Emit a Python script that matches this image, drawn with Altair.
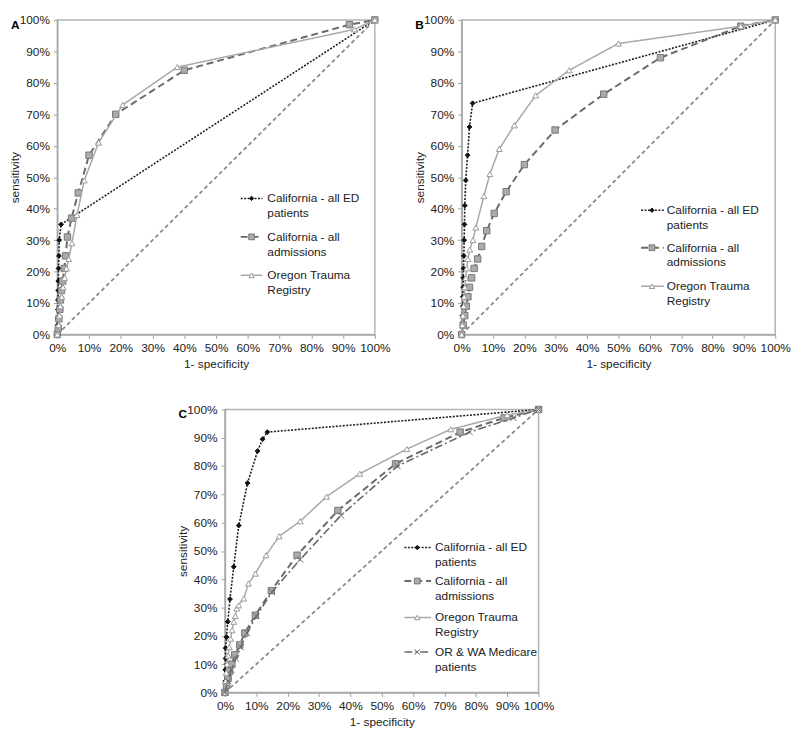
import altair as alt
import pandas as pd

# ---------------- data (percent) ----------------
PCT_TICKS = [0, 10, 20, 30, 40, 50, 60, 70, 80, 90, 100]
CHANCE = [0, 100]

LABEL_ED = "California - all ED\npatients"
LABEL_ADM = "California - all\nadmissions"
LABEL_ORE = "Oregon Trauma\nRegistry"
LABEL_MED = "OR & WA Medicare\npatients"

# Panel A
A_ED_X = [0, 0.1, 0.1, 0.2, 0.2, 0.3, 0.3, 0.4, 0.5, 0.6, 1.2, 100]
A_ED_Y = [0, 3, 5, 8, 11, 14, 17, 21, 25, 30, 35, 100]
A_ADM_X = [0, 0.3, 0.5, 0.8, 1.0, 1.3, 1.7, 2.2, 2.6, 3.2, 4.5, 6.6, 10, 18.4, 40, 92, 100]
A_ADM_Y = [0, 2, 5, 8, 11, 14, 17, 21, 25, 31, 37, 45, 57, 70, 84, 98.5, 100]
A_ORE_X = [0, 0.4, 0.7, 1.0, 1.4, 1.8, 2.3, 2.9, 3.6, 4.6, 6.2, 8.5, 13, 20.6, 37.8, 93.6, 100]
A_ORE_Y = [0, 3, 6, 9, 12, 15, 18, 21, 24, 29, 38, 49, 61, 73, 85, 97, 100]

# Panel B
B_ED_X = [0, 0.2, 0.3, 0.4, 0.4, 0.5, 0.5, 0.6, 0.7, 0.8, 0.9, 1.0, 1.3, 1.9, 2.5, 3.5, 100]
B_ED_Y = [0, 3, 6, 9, 12, 15, 18, 21, 25, 30, 35, 41, 49, 57, 66, 73.5, 100]
B_ADM_X = [0, 0.5, 1.0, 1.5, 2.0, 2.5, 3.2, 4.0, 5.1, 6.4, 8.0, 10.4, 14.2, 20, 29.8, 45.3, 63.4, 89, 100]
B_ADM_Y = [0, 3, 6, 9, 12, 15, 18, 21, 24, 28, 33, 38.5, 45.4, 54, 65, 76.4, 88, 98, 100]
B_ORE_X = [0, 0.2, 0.4, 0.6, 0.8, 1.0, 1.3, 1.6, 2.0, 2.6, 3.6, 4.5, 7.1, 9, 12, 16.8, 23.6, 34.3, 50, 89, 100]
B_ORE_Y = [0, 3, 6, 9, 12, 15, 18, 21, 24, 27, 30, 34, 44, 51, 59, 66.5, 76, 84, 92.5, 98, 100]

# Panel C
C_ED_X = [0, 0.1, 0.1, 0.2, 0.2, 0.5, 0.9, 1.6, 2.8, 4.4, 7.2, 10.4, 12, 13.5, 100]
C_ED_Y = [0, 4, 8, 12, 15.7, 19.6, 25, 33, 44.4, 59, 74, 85.3, 89.5, 92, 100]
C_ADM_X = [0, 0.5, 1.0, 1.5, 2.2, 3.1, 4.7, 6.3, 9.7, 14.8, 23, 36, 54.4, 75, 89, 100]
C_ADM_Y = [0, 2.5, 5, 7.5, 10, 13.3, 16.8, 21, 27.3, 36, 48.5, 64.3, 80.8, 92, 97, 100]
C_ORE_X = [0, 0.2, 0.4, 0.7, 1.0, 1.4, 1.8, 2.3, 2.8, 3.3, 3.8, 4.4, 6.0, 7.5, 9.7, 13.1, 17.3, 24, 32.4, 43, 58, 72, 90, 100]
C_ORE_Y = [0, 4, 7, 10, 13, 16, 19, 22, 25, 27, 29.7, 30.8, 33.2, 38.5, 42, 48.5, 55.2, 60.5, 69.2, 77.3, 86, 93, 98, 100]
C_MED_X = [0, 1, 2, 3.5, 5, 7, 10, 15, 24, 37, 55, 78, 92, 100]
C_MED_Y = [0, 4, 8, 12, 16, 21, 27, 35.5, 47, 62.6, 80, 92, 97, 100]

# ---------------- styles ----------------
FONT = "Liberation Sans"
XMARK = "M-1,-1L1,1M-1,1L1,-1"
STYLE = {
    "ed": dict(color="#1c1c1c", dash=[2, 1.5], width=1.6, shape="diamond",
               fill="#111111", stroke="#111111", size=24, label=LABEL_ED),
    "adm": dict(color="#6a6a6a", dash=[7, 4], width=2.0, shape="square",
                fill="#ababab", stroke="#777777", size=42, label=LABEL_ADM),
    "ore": dict(color="#a8a8a8", dash=[1, 0], width=1.5, shape="triangle-up",
                fill="#ffffff", stroke="#999999", size=36, label=LABEL_ORE),
    "med": dict(color="#666666", dash=[8, 3, 2, 3], width=1.6, shape=XMARK,
                fill="none", stroke="#666666", size=40, label=LABEL_MED),
}


def xenc():
    return alt.X("x:Q", scale=alt.Scale(domain=[0, 100], nice=False, zero=False),
                 axis=alt.Axis(values=PCT_TICKS, labelExpr="datum.value + '%'",
                               title="1- specificity", labelFlush=False,
                               labelOverlap=False, titlePadding=5))


def make_yenc(h):
    def yenc():
        return alt.Y("y:Q", scale=alt.Scale(domain=[0, 100], nice=False, zero=False),
                     axis=alt.Axis(values=PCT_TICKS, labelExpr="datum.value + '%'",
                                   title="sensitivity", labelFlush=False,
                                   labelOverlap=False, titleX=-36, titleY=h / 2,
                                   titleBaseline="bottom", titleAngle=270))
    return yenc


def series_layers(key, xs, ys, yenc):
    s = STYLE[key]
    df = pd.DataFrame({"x": xs, "y": ys, "i": list(range(len(xs)))})
    base = alt.Chart(df)
    line = base.mark_line(color=s["color"], strokeDash=s["dash"],
                          strokeWidth=s["width"]).encode(
        x=xenc(), y=yenc(), order="i:Q")
    pts = base.mark_point(shape=s["shape"], filled=(s["fill"] != "none"),
                          fill=s["fill"] if s["fill"] != "none" else "transparent",
                          stroke=s["stroke"], strokeWidth=1, size=s["size"],
                          opacity=1).encode(x=xenc(), y=yenc())
    return [line, pts]


def legend_layers(key, lx0, lx1, lxm, ltx, ly):
    s = STYLE[key]
    d = pd.DataFrame({"label": [s["label"]]})
    base = alt.Chart(d)
    rule = base.mark_rule(color=s["color"], strokeDash=s["dash"],
                          strokeWidth=s["width"]).encode(
        x=alt.value(lx0), x2=alt.value(lx1), y=alt.value(ly))
    pt = base.mark_point(shape=s["shape"], filled=(s["fill"] != "none"),
                         fill=s["fill"] if s["fill"] != "none" else "transparent",
                         stroke=s["stroke"], strokeWidth=1, size=s["size"] * 0.8,
                         opacity=1).encode(x=alt.value(lxm), y=alt.value(ly))
    txt = base.mark_text(align="left", baseline="alphabetic", lineBreak="\n",
                         lineHeight=15, font=FONT, fontSize=12, color="#222222").encode(
        x=alt.value(ltx), y=alt.value(ly + 4), text="label:N")
    return [rule, pt, txt]


def panel(letter, series, legend_geom, w, h):
    yenc = make_yenc(h)
    layers = []
    diag = alt.Chart(pd.DataFrame({"x": CHANCE, "y": CHANCE})).mark_line(
        color="#8a8a8a", strokeDash=[4, 3], strokeWidth=1.8).encode(x=xenc(), y=yenc())
    layers.append(diag)
    for key, xs, ys in series:
        layers += series_layers(key, xs, ys, yenc)
    lx0, lx1, lxm, ltx, lys = legend_geom
    for (key, _, _), ly in zip(series, lys):
        layers += legend_layers(key, lx0, lx1, lxm, ltx, ly)
    lab = alt.Chart(pd.DataFrame({"t": [letter]})).mark_text(
        align="left", baseline="alphabetic", font=FONT, fontSize=12,
        fontWeight="bold", color="#000000").encode(
        x=alt.value(-47), y=alt.value(9), text="t:N")
    layers.append(lab)
    return alt.layer(*layers).properties(width=w, height=h)


# draw order: ED on top
A = panel("A",
          [("ed", A_ED_X, A_ED_Y), ("adm", A_ADM_X, A_ADM_Y), ("ore", A_ORE_X, A_ORE_Y)],
          (186, 208, 197, 213, [181, 220, 259]), 322, 319)
B = panel("B",
          [("ed", B_ED_X, B_ED_Y), ("adm", B_ADM_X, B_ADM_Y), ("ore", B_ORE_X, B_ORE_Y)],
          (182, 205, 193, 208, [193, 231, 270]), 318, 319)
C = panel("C",
          [("ed", C_ED_X, C_ED_Y), ("adm", C_ADM_X, C_ADM_Y), ("ore", C_ORE_X, C_ORE_Y),
           ("med", C_MED_X, C_MED_Y)],
          (182, 209, 195, 213, [140, 174, 211, 246]), 318, 287)

spacer = alt.Chart(pd.DataFrame({"s": [0]})).mark_point(opacity=0).encode(
    x=alt.X("s:Q", axis=None), y=alt.Y("s:Q", axis=None)).properties(
    width=100, height=287, view=alt.ViewBackground(strokeOpacity=0))

top = alt.hconcat(A, B, spacing=21)
bottom = alt.hconcat(spacer, C, spacing=20)

chart = alt.vconcat(top, bottom, spacing=33).properties(
    padding=0,
    background="white",
).configure_view(
    stroke="#b4b4b4", strokeWidth=1.5
).configure_axis(
    grid=False, labelFont=FONT, titleFont=FONT, labelFontSize=12, titleFontSize=12,
    titleFontWeight="normal", labelColor="#222222", titleColor="#222222",
    domainColor="#a8a8a8", domainWidth=1.5, tickColor="#a0a0a0", tickSize=4,
    tickWidth=1, labelPadding=4,
)

chart.save("out.html", embed_options={"renderer": "svg", "actions": False})
